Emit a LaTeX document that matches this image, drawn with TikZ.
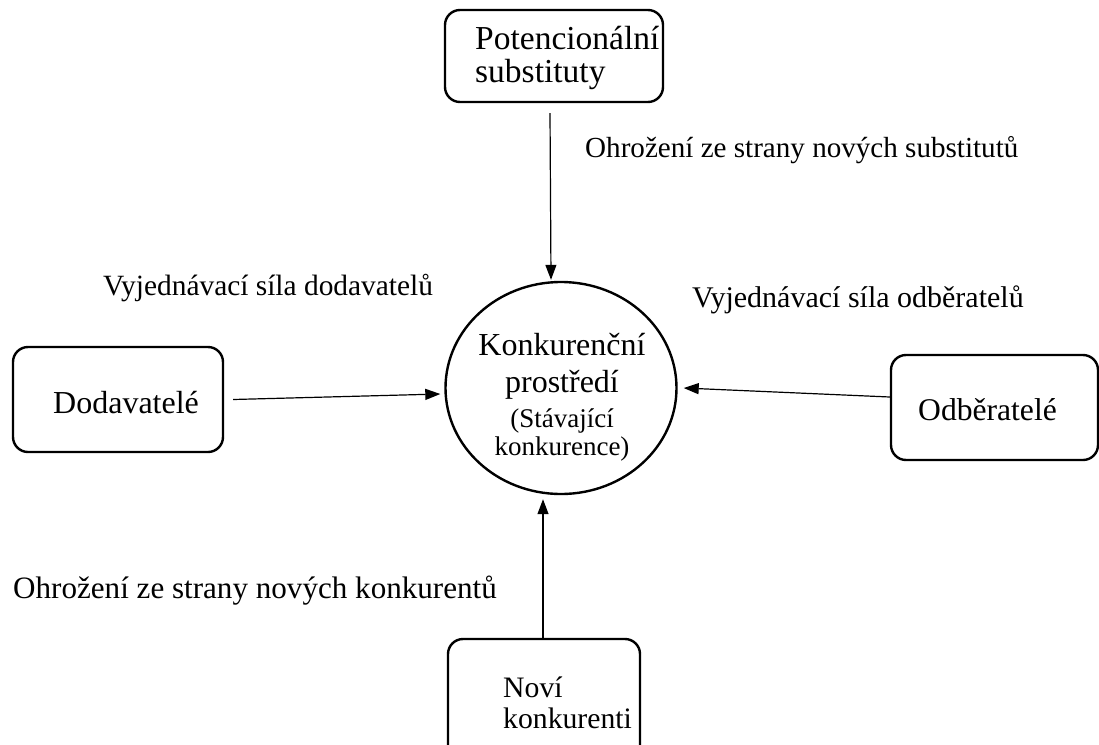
\documentclass[tikz,border=0pt]{standalone}
\usepackage{fontspec}
\setmainfont{Liberation Serif}
\usetikzlibrary{shapes.geometric,arrows.meta}
\begin{document}
\begin{tikzpicture}[x=1pt,y=-1pt,
  box/.style={draw,line width=2.4pt,rounded corners=15pt,inner sep=0pt},
  boxtxt/.style={anchor=base west,inner sep=0pt},
  ctxt/.style={anchor=base,inner sep=0pt,font=\fontsize{32}{36}\selectfont},
  csmall/.style={anchor=base,inner sep=0pt,font=\fontsize{27}{30}\selectfont},
  lbl/.style={anchor=base west,inner sep=0pt},
  arr/.style={line width=1.2pt,-{Triangle[length=15pt,width=11pt]}}]
\useasboundingbox (0,0) rectangle (1099,744);
\clip (0,0) rectangle (1099,744);
% boxes
\node[box,minimum width=218pt,minimum height=92pt] (pot) at (554,56) {};
\node[box,minimum width=210pt,minimum height=105pt] (dod) at (118,399.5) {};
\node[box,minimum width=207pt,minimum height=105pt] (odb) at (994.5,407.5) {};
\node[box,minimum width=192pt,minimum height=125pt] (nov) at (544,701.5) {};
\node[draw,ellipse,line width=2.4pt,minimum width=231pt,minimum height=212pt,inner sep=0pt] (kon) at (561,388) {};
% box texts
\node[boxtxt,font=\fontsize{33.5}{36}\selectfont] (pot1) at (475,49) {Potencionální};
\node[boxtxt,font=\fontsize{33.5}{36}\selectfont] (pot2) at (475,82) {substituty};
\node[boxtxt,font=\fontsize{32}{36}\selectfont] (dodt) at (53,413) {Dodavatelé};
\node[boxtxt,font=\fontsize{31.6}{36}\selectfont] (odbt) at (918,420) {Odběratelé};
\node[boxtxt,font=\fontsize{29.7}{34}\selectfont] (nov1) at (503,697) {Noví};
\node[boxtxt,font=\fontsize{29.7}{34}\selectfont] (nov2) at (503,728) {konkurenti};
\node[ctxt] (kon1) at (562,355) {Konkurenční};
\node[ctxt] (kon2) at (562,392) {prostředí};
\node[csmall] (kon3) at (562,427) {(Stávající};
\node[csmall] (kon4) at (562,455) {konkurence)};
% labels
\node[lbl,font=\fontsize{29.1}{34}\selectfont] (l1) at (585,157) {Ohrožení ze strany nových substitutů};
\node[lbl,font=\fontsize{29.4}{34}\selectfont] (l2) at (103,295) {Vyjednávací síla dodavatelů};
\node[lbl,font=\fontsize{30}{34}\selectfont] (l3) at (692,307) {Vyjednávací síla odběratelů};
\node[lbl,font=\fontsize{31.1}{34}\selectfont] (l4) at (13,598) {Ohrožení ze strany nových konkurentů};
% arrows
\draw[arr] ([shift={(-4,10)}]pot.south) -- ([shift={(-10,-1)}]kon.north);
\draw[arr] ([shift={(9,0)}]dod.east) -- ([shift={(-4,6)}]kon.west);
\draw[arr] ([shift={(0,-10.5)}]odb.west) -- ([shift={(6,0)}]kon.east);
\draw[arr] ([shift={(-1,0)}]nov.north) -- ([shift={(-18,4)}]kon.south);
\end{tikzpicture}
\end{document}
